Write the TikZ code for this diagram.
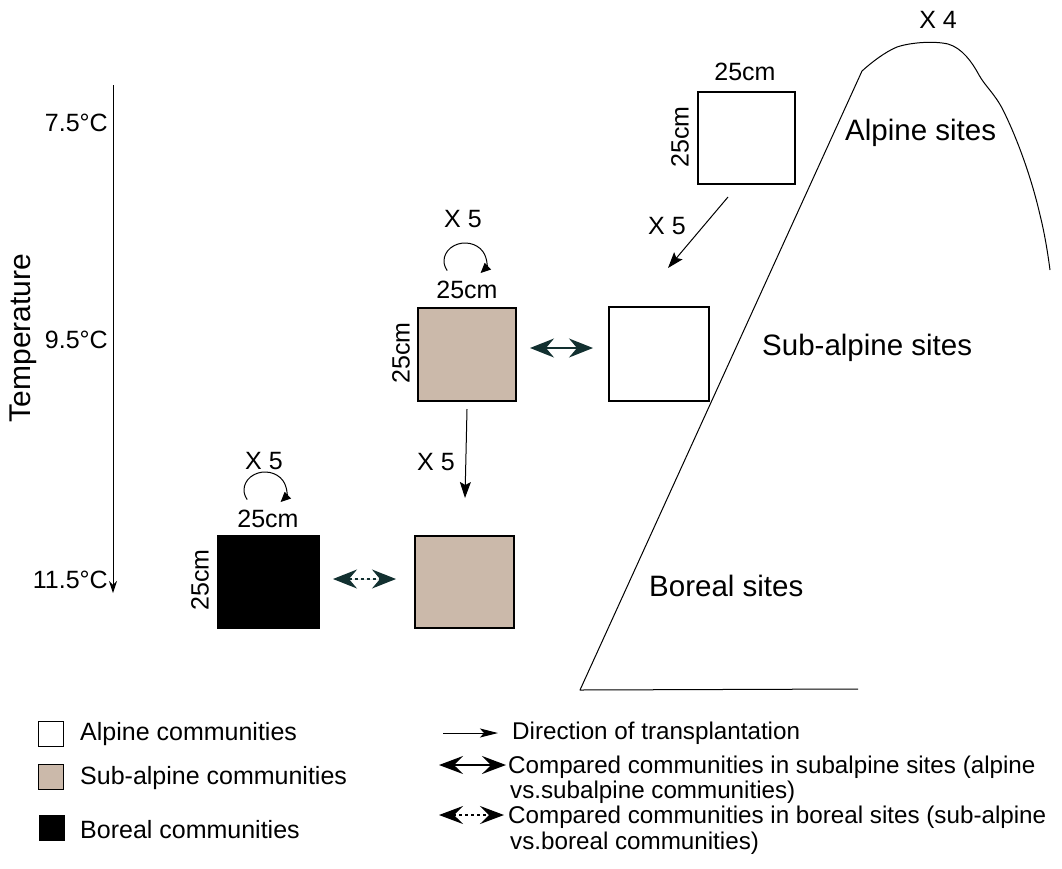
\documentclass[tikz,border=0pt]{standalone}
\usepackage{fontspec}
\setmainfont{Liberation Sans}
\usetikzlibrary{arrows.meta}
\definecolor{brownfill}{RGB}{203,185,170}
\definecolor{teal2}{RGB}{18,48,48}
\tikzset{
  lab/.style={font=\fontsize{25}{28}\selectfont, inner sep=0pt},
  leg/.style={font=\fontsize{24.2}{27}\selectfont, inner sep=0pt},
  site/.style={font=\fontsize{29.5}{32}\selectfont, inner sep=0pt},
  plot/.style={draw=black, line width=2pt},
  tarrow/.style={line width=1pt, -{Stealth[length=16pt,width=11pt,inset=3pt]}},
  cyc/.style={line width=1pt, -{Triangle[length=10pt,width=9pt]}},
  dbl/.style={line width=1.6pt, {Stealth[length=24pt,width=19pt,inset=8pt]}-{Stealth[length=24pt,width=19pt,inset=8pt]}},
}
\begin{document}
\begin{tikzpicture}[x=1pt,y=-1pt]
\useasboundingbox (0,0) rectangle (1062,868);
% temperature axis
\coordinate (ttop) at (113,85);
\coordinate (tbot) at (113,593);
\draw[line width=1pt, -{Stealth[length=12pt,width=8pt]}] (ttop) -- (tbot);
\node[lab, anchor=east] (t1) at (108,123) {7.5°C};
\node[lab, anchor=east] (t2) at (108,340) {9.5°C};
\node[lab, anchor=east] (t3) at (108,580) {11.5°C};
\node[font=\fontsize{30}{32}\selectfont, inner sep=0pt, rotate=90] (temp) at (23,338) {Temperature};

% alpine plot
\node[plot, fill=white, minimum width=97pt, minimum height=92pt, anchor=north west] (alp) at (697,91) {};
\node[lab] (alpw) at (745,72) {25cm};
\node[lab, rotate=90] (alph) at (680,137) {25cm};
\node[lab] (x5a) at (667,226) {X 5};

% subalpine row
\node[plot, fill=brownfill, minimum width=98pt, minimum height=93pt, anchor=north west] (sub) at (417,307) {};
\node[plot, fill=white, minimum width=100pt, minimum height=94pt, anchor=north west] (subw) at (608,306) {};
\node[lab] (subwid) at (467,290) {25cm};
\node[lab, rotate=90] (subh) at (401,353) {25cm};
\node[lab] (x5s) at (463,219) {X 5};
\coordinate (cs) at (465,261);
\draw[cyc] ([shift={(212:21pt and 18pt)}]cs) arc[start angle=212, end angle=-42, x radius=21pt, y radius=18pt];

% arrows
\coordinate (a1s) at (728,197);
\coordinate (a1e) at (668,268);
\draw[tarrow] (a1s) -- (a1e);
\draw[tarrow] (sub.south) ++(0,7) coordinate (a2s) -- (465,498) coordinate (a2e);
\node[lab] (x5d) at (436,462) {X 5};
\coordinate (d1l) at (530,348);
\coordinate (d1r) at (593,348);
\draw[dbl, draw=teal2, fill=teal2] (d1l) -- (d1r);

% boreal row
\node[plot, fill=black, minimum width=101pt, minimum height=92pt, anchor=north west] (bor) at (217,535) {};
\node[plot, fill=brownfill, minimum width=99pt, minimum height=92pt, anchor=north west] (sub2) at (414,535) {};
\node[lab] (borw) at (268,519) {25cm};
\node[lab, rotate=90] (borh) at (200,580) {25cm};
\node[lab] (x5b) at (264,461) {X 5};
\coordinate (cb) at (265,490);
\draw[cyc] ([shift={(212:21pt and 18pt)}]cb) arc[start angle=212, end angle=-42, x radius=21pt, y radius=18pt];
\coordinate (d2l) at (333,579);
\coordinate (d2r) at (396,579);
\draw[teal2, line width=1.2pt, {Stealth[length=24pt,width=19pt,inset=8pt]}-{Stealth[length=24pt,width=19pt,inset=8pt]}, dash pattern=on 3pt off 3pt, fill=teal2] (d2l) -- (d2r);

% mountain
\draw[line width=1pt, line join=round] (858,689) -- (580,690) -- (862,71)
  .. controls (872,62) and (885,52) .. (897,47)
  .. controls (912,42) and (935,41) .. (948,44)
  .. controls (962,48) and (972,62) .. (979,75)
  .. controls (985,86) and (995,94) .. (1003,110)
  .. controls (1018,140) and (1032,180) .. (1040,215)
  .. controls (1045,235) and (1048,255) .. (1050,270);
\node[lab] (x4) at (938,20) {X 4};
\node[site, anchor=west] (alps) at (845,133) {Alpine sites};
\node[site, anchor=west] (subs) at (762,348) {Sub-alpine sites};
\node[site, anchor=west] (bors) at (649,586) {Boreal sites};

% legend
\node[draw=black, line width=1pt, fill=white, minimum size=25pt, inner sep=0pt] (lg1) at (51,734) {};
\node[draw=black, line width=1pt, fill=brownfill, minimum size=25pt, inner sep=0pt] (lg2) at (51,777) {};
\node[draw=black, line width=1pt, fill=black, minimum size=25pt, inner sep=0pt] (lg3) at (52,828) {};
\node[lab, anchor=west] (lt1) at (80,734) {Alpine communities};
\node[lab, anchor=west] (lt2) at (80,778) {Sub-alpine communities};
\node[lab, anchor=west] (lt3) at (80,830) {Boreal communities};

\coordinate (la1) at (443,733);
\coordinate (la2) at (498,733);
\draw[line width=1pt, -{Stealth[length=18pt,width=9pt,inset=4pt]}] (la1) -- (la2);
\coordinate (lb1) at (439,765);
\coordinate (lb2) at (506,765);
\draw[line width=1.4pt, {Stealth[length=24pt,width=18pt,inset=9pt]}-{Stealth[length=24pt,width=18pt,inset=9pt]}] (lb1) -- (lb2);
\coordinate (lc1) at (439,815);
\coordinate (lc2) at (504,815);
\draw[line width=1.2pt, dash pattern=on 3pt off 3pt, {Stealth[length=24pt,width=18pt,inset=9pt]}-{Stealth[length=24pt,width=18pt,inset=9pt]}] (lc1) -- (lc2);

\node[leg, anchor=west] (lr1) at (512,733) {Direction of transplantation};
\node[leg, anchor=west] (lr2) at (508,767) {Compared communities in subalpine sites (alpine};
\node[leg, anchor=west] (lr2b) at (510,792) {vs.subalpine communities)};
\node[leg, anchor=west] (lr3) at (508,817) {Compared communities in boreal sites (sub-alpine};
\node[leg, anchor=west] (lr3b) at (510,843) {vs.boreal communities)};
\end{tikzpicture}
\end{document}
